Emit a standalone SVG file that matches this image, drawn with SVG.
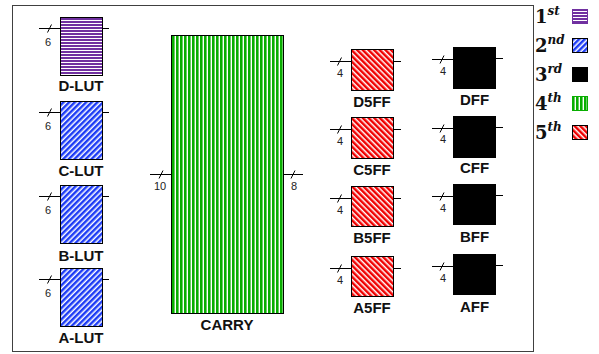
<svg xmlns="http://www.w3.org/2000/svg" width="599" height="354" viewBox="0 0 599 354">
<style>
.box{stroke:#000;stroke-width:1}
.lbl{font-family:"Liberation Sans",Arial,sans-serif;font-weight:bold;font-size:15px;fill:#111;text-anchor:middle}
.num{font-family:"Liberation Sans",Arial,sans-serif;font-size:11px;fill:#222;text-anchor:middle}
.wire{stroke:#000;stroke-width:1;fill:none}
.leg{font-family:"DejaVu Serif","Liberation Serif",serif;font-weight:bold;font-size:18px;fill:#111}
.sup{font-style:italic;font-size:12px}
</style>
<defs>
<pattern id="pPurple" width="4" height="3" patternUnits="userSpaceOnUse">
<rect width="4" height="3" fill="#fff"/><rect width="4" height="2" fill="#7030A0"/>
</pattern>
<pattern id="pBlue" width="4" height="4" patternUnits="userSpaceOnUse" patternTransform="rotate(45)">
<rect width="4" height="4" fill="#fff"/><rect width="2.5" height="4" fill="#1C3BF5"/>
</pattern>
<pattern id="pRed" width="4" height="4" patternUnits="userSpaceOnUse" patternTransform="rotate(-45)">
<rect width="4" height="4" fill="#fff"/><rect width="2.5" height="4" fill="#F00000"/>
</pattern>
<pattern id="pGreen" width="4" height="4" patternUnits="userSpaceOnUse">
<rect width="4" height="4" fill="#fff"/><rect width="2.6" height="4" fill="#08AE00"/>
</pattern>
</defs>
<rect x="12.5" y="5.5" width="521" height="346" fill="#fff" stroke="#404040" stroke-width="1"/>

<g id="connectors">
<path class="wire" d="M39 28.5H60M102 28.5H109M47.5 32.5L51.5 24.5"/>
<path class="wire" d="M39 112.5H60M102 112.5H109M47.5 116.5L51.5 108.5"/>
<path class="wire" d="M39 196.5H60M102 196.5H109M47.5 200.5L51.5 192.5"/>
<path class="wire" d="M39 279.5H60M102 279.5H109M47.5 283.5L51.5 275.5"/>
<path class="wire" d="M150 174.5H171M159 178.5L163 170.5M283 174.5H303M291 178.5L295 170.5"/>
<path class="wire" d="M330 61.5H351M393 61.5H401M337.5 65.5L341.5 57.5"/>
<path class="wire" d="M330 129.5H351M393 129.5H401M337.5 133.5L341.5 125.5"/>
<path class="wire" d="M330 198.5H351M393 198.5H401M337.5 202.5L341.5 194.5"/>
<path class="wire" d="M330 268.5H351M393 268.5H401M337.5 272.5L341.5 264.5"/>
<path class="wire" d="M432 59.5H453M496 58.5H503M440 63.5L444 55.5"/>
<path class="wire" d="M432 128.5H453M496 127.5H503M440 132.5L444 124.5"/>
<path class="wire" d="M432 196.5H453M496 195.5H503M440 200.5L444 192.5"/>
<path class="wire" d="M432 266.5H453M496 265.5H503M440 270.5L444 262.5"/>
</g>

<g id="D-LUT"><rect class="box" x="60.5" y="17.5" width="42" height="58" fill="url(#pPurple)"/><text class="lbl" x="81" y="91">D-LUT</text><text class="num" x="48" y="46">6</text></g>
<g id="C-LUT"><rect class="box" x="60.5" y="101.5" width="42" height="58" fill="url(#pBlue)"/><text class="lbl" x="81" y="176">C-LUT</text><text class="num" x="48" y="130">6</text></g>
<g id="B-LUT"><rect class="box" x="60.5" y="185.5" width="42" height="58" fill="url(#pBlue)"/><text class="lbl" x="81" y="261">B-LUT</text><text class="num" x="48" y="214">6</text></g>
<g id="A-LUT"><rect class="box" x="60.5" y="268.5" width="42" height="58" fill="url(#pBlue)"/><text class="lbl" x="81" y="343">A-LUT</text><text class="num" x="48" y="297">6</text></g>

<g id="CARRY"><rect class="box" x="171.5" y="35.5" width="112" height="278" fill="url(#pGreen)"/><text class="lbl" x="227" y="330">CARRY</text><text class="num" x="160" y="190">10</text><text class="num" x="294" y="190">8</text></g>

<g id="D5FF"><rect class="box" x="351.5" y="49.5" width="42" height="41" fill="url(#pRed)"/><text class="lbl" x="372" y="107">D5FF</text><text class="num" x="340" y="77">4</text></g>
<g id="C5FF"><rect class="box" x="351.5" y="117.5" width="42" height="41" fill="url(#pRed)"/><text class="lbl" x="372" y="175">C5FF</text><text class="num" x="340" y="145">4</text></g>
<g id="B5FF"><rect class="box" x="351.5" y="186.5" width="42" height="40" fill="url(#pRed)"/><text class="lbl" x="372" y="243">B5FF</text><text class="num" x="340" y="214">4</text></g>
<g id="A5FF"><rect class="box" x="351.5" y="256.5" width="42" height="40" fill="url(#pRed)"/><text class="lbl" x="372" y="313">A5FF</text><text class="num" x="340" y="284">4</text></g>

<g id="DFF"><rect class="box" x="453.5" y="47.5" width="42" height="41" fill="#000"/><text class="lbl" x="474.5" y="105">DFF</text><text class="num" x="443" y="75">4</text></g>
<g id="CFF"><rect class="box" x="453.5" y="116.5" width="42" height="41" fill="#000"/><text class="lbl" x="474.5" y="173">CFF</text><text class="num" x="443" y="143">4</text></g>
<g id="BFF"><rect class="box" x="453.5" y="184.5" width="42" height="40" fill="#000"/><text class="lbl" x="474.5" y="242">BFF</text><text class="num" x="443" y="212">4</text></g>
<g id="AFF"><rect class="box" x="453.5" y="254.5" width="42" height="40" fill="#000"/><text class="lbl" x="474.5" y="312">AFF</text><text class="num" x="443" y="282">4</text></g>

<g id="legend">
<text class="leg" x="535" y="23">1<tspan class="sup" dy="-8">st</tspan></text>
<rect x="572.5" y="9.5" width="15" height="14" fill="url(#pPurple)" stroke="#7030A0"/>
<text class="leg" x="535" y="52">2<tspan class="sup" dy="-8">nd</tspan></text>
<rect x="572.5" y="38.5" width="15" height="14" fill="url(#pBlue)" stroke="#000"/>
<text class="leg" x="535" y="81">3<tspan class="sup" dy="-8">rd</tspan></text>
<rect x="572.5" y="67.5" width="15" height="14" fill="#000" stroke="#000"/>
<text class="leg" x="535" y="110">4<tspan class="sup" dy="-8">th</tspan></text>
<rect x="572.5" y="96.5" width="15" height="14" fill="url(#pGreen)" stroke="#08AE00"/>
<text class="leg" x="535" y="139">5<tspan class="sup" dy="-8">th</tspan></text>
<rect x="572.5" y="125.5" width="15" height="14" fill="url(#pRed)" stroke="#000"/>
</g>
</svg>
